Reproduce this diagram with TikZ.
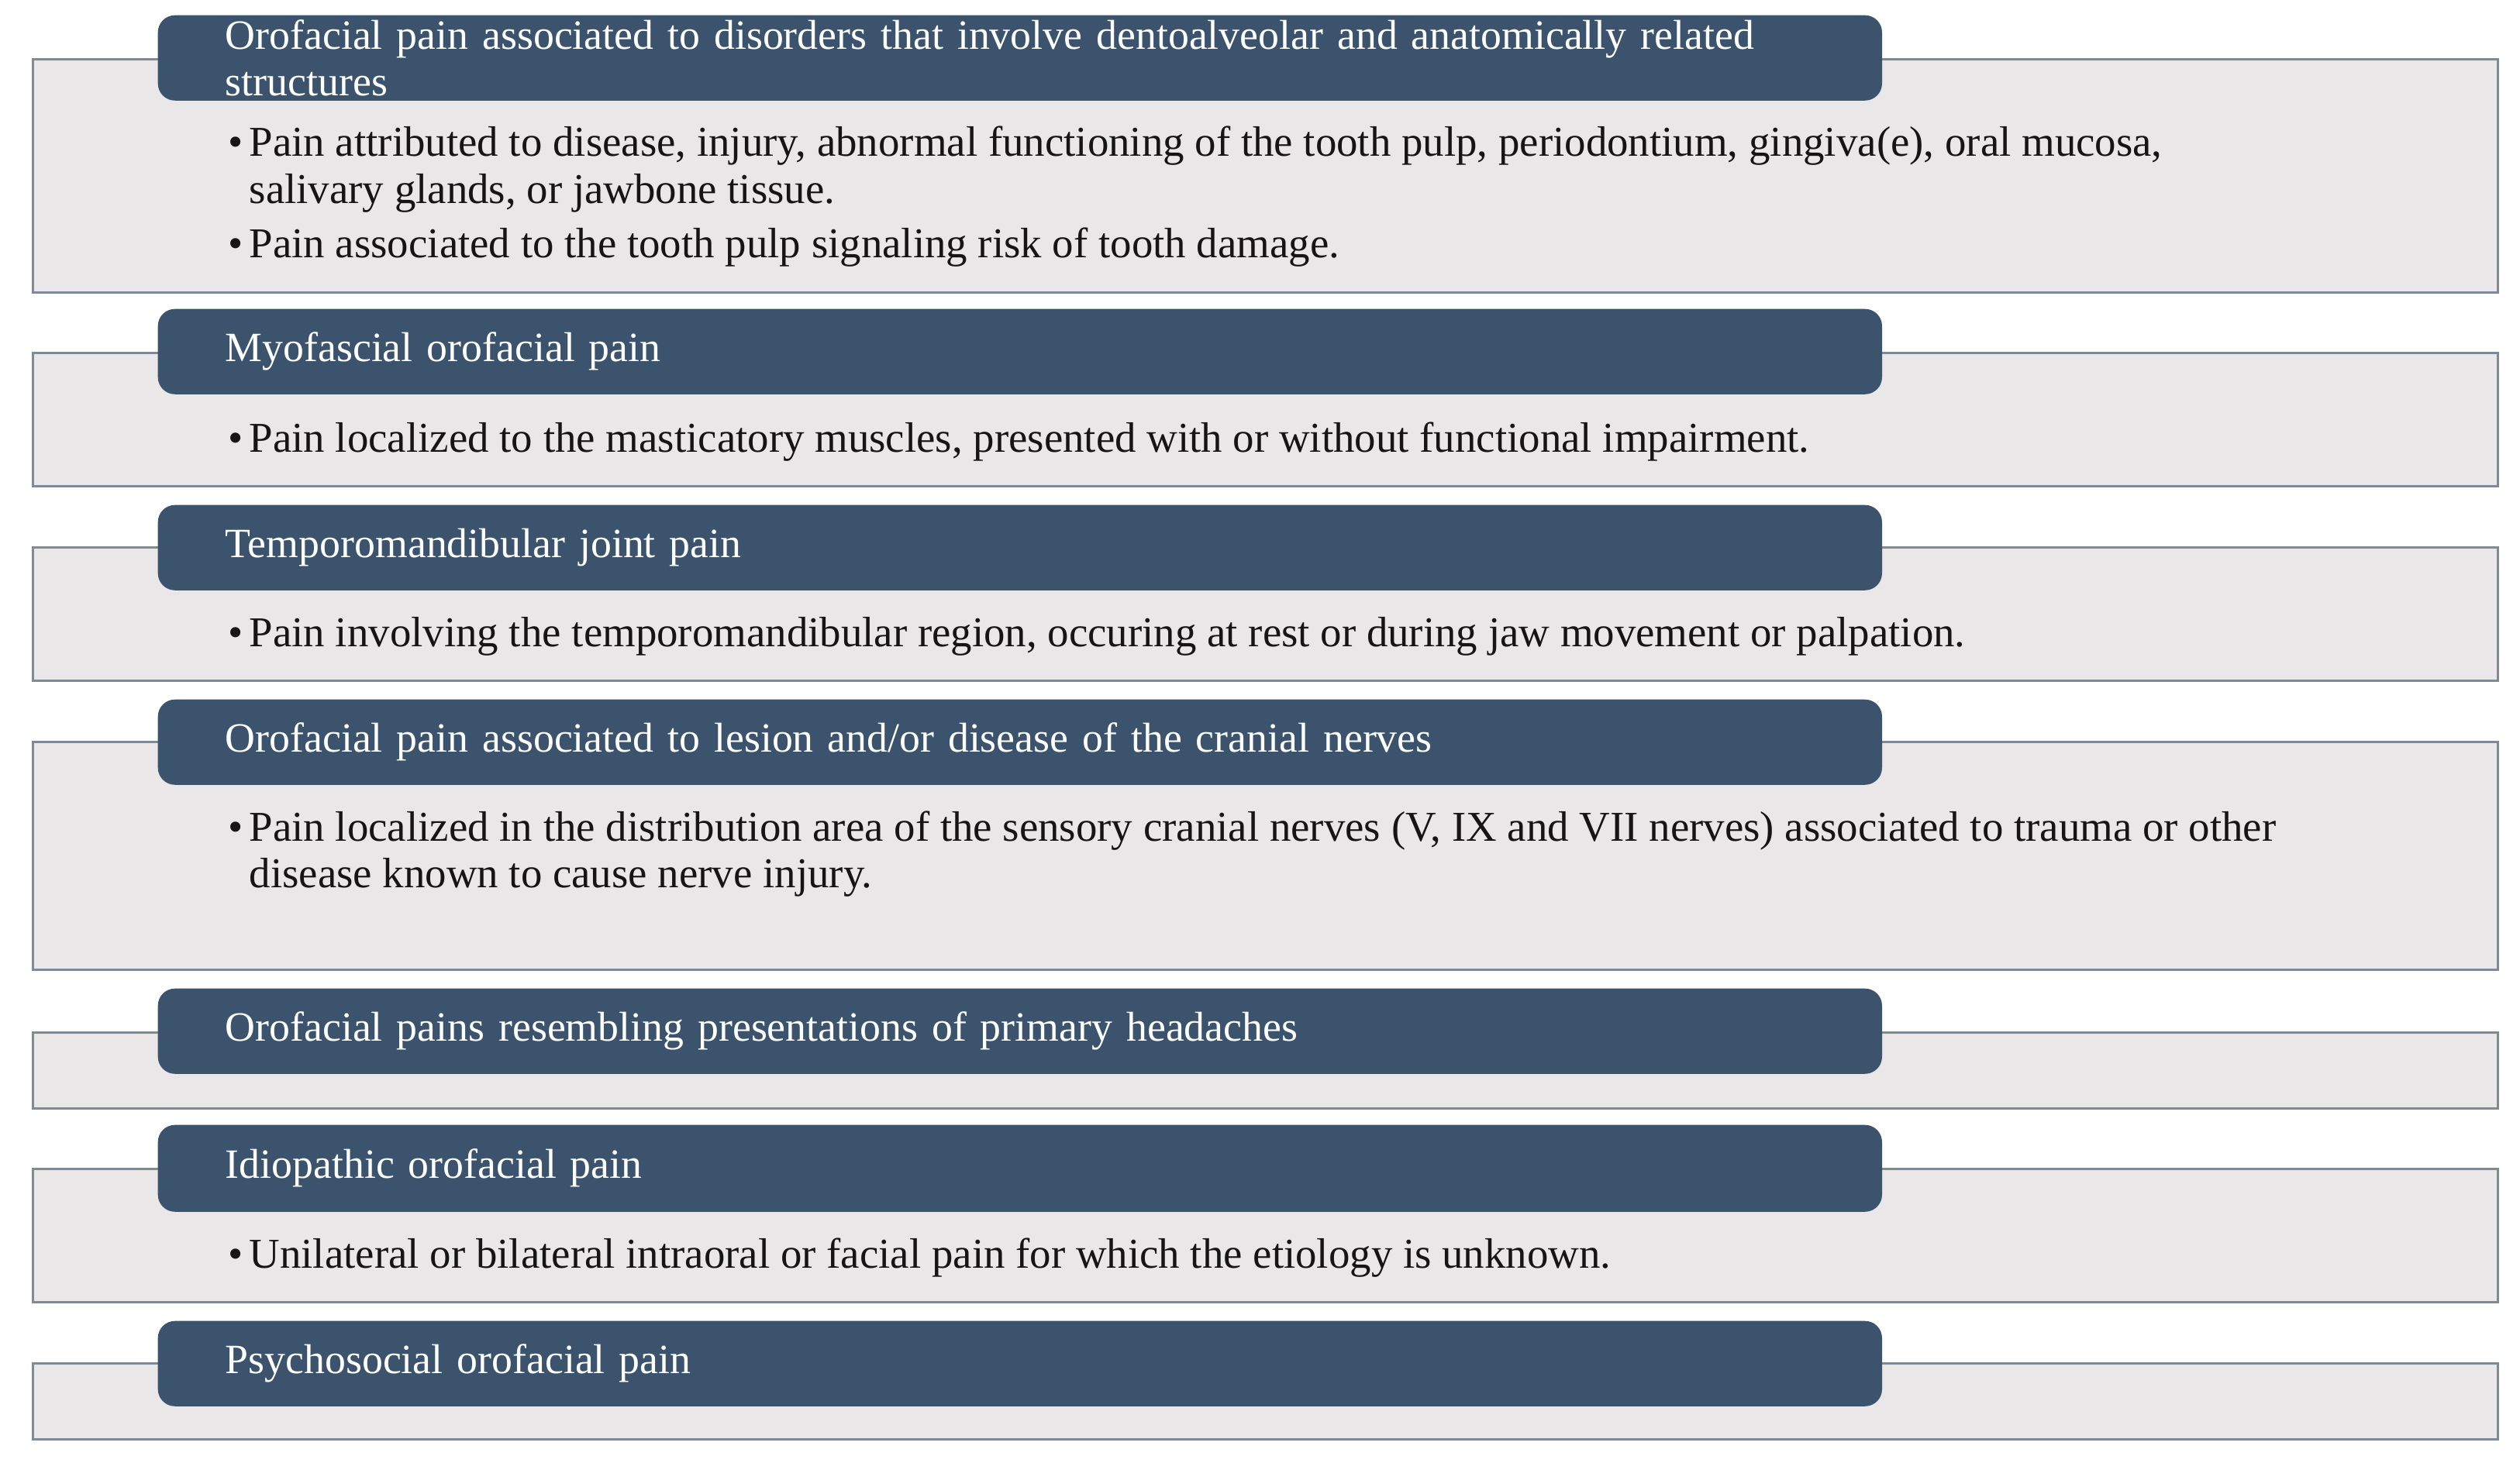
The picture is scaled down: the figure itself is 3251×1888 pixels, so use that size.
\documentclass[tikz,border=0pt]{standalone}
\usepackage{fontspec}
\setmainfont{Liberation Serif}
\definecolor{hdrfill}{HTML}{3B536D}
\definecolor{boxfill}{HTML}{EAE7E8}
\definecolor{boxline}{HTML}{7F8A99}
\definecolor{bodytext}{HTML}{151515}
\newcommand\bitem[1]{\begin{tabular}[t]{@{}p{0.27cm}@{}l@{}}\textbullet & #1\end{tabular}}
\begin{document}
\begin{tikzpicture}[x=0.01cm,y=-0.01cm,
  panel/.style={draw=boxline, fill=boxfill, line width=0.85pt, anchor=north west, minimum width=31.78cm, inner sep=0pt},
  hdr/.style={fill=hdrfill, rounded corners=0.22cm, anchor=north west, minimum width=22.23cm, text width=20.49cm, inner xsep=0.87cm, inner ysep=0pt, align=left, text=white, font=\fontsize{15.3}{17.1}\selectfont},
  btxt/.style={anchor=base west, inner sep=0pt, text=bodytext, font=\fontsize{15.6}{17.1}\selectfont}]
\useasboundingbox (0,0) rectangle (3251,1888);
\fill[white] (0,0) rectangle (3251,1888);

% row 1
\node[panel, minimum height=3.01cm] (b1) at (41,75) {};
\node[hdr, minimum height=1.10cm] (h1) at (203,19) {Orofacial pain associated to disorders that involve dentoalveolar and anatomically related\\structures};
\node[btxt] (t1a) at (294,202) {\bitem{Pain attributed to disease, injury, abnormal functioning of the tooth pulp, periodontium, gingiva(e), oral mucosa,\\ & salivary glands, or jawbone tissue.}};
\node[btxt] (t1b) at (294,332) {\bitem{Pain associated to the tooth pulp signaling risk of tooth damage.}};

% row 2
\node[panel, minimum height=1.72cm] (b2) at (41,454) {};
\node[hdr, minimum height=1.10cm] (h2) at (203,398) {Myofascial orofacial pain};
\node[btxt] (t2) at (294,583) {\bitem{Pain localized to the masticatory muscles, presented with or without functional impairment.}};

% row 3
\node[panel, minimum height=1.72cm] (b3) at (41,705) {};
\node[hdr, minimum height=1.10cm] (h3) at (203,651) {Temporomandibular joint pain};
\node[btxt] (t3) at (294,834) {\bitem{Pain involving the temporomandibular region, occuring at rest or during jaw movement or palpation.}};

% row 4
\node[panel, minimum height=2.94cm] (b4) at (41,956) {};
\node[hdr, minimum height=1.10cm] (h4) at (203,902) {Orofacial pain associated to lesion and/or disease of the cranial nerves};
\node[btxt] (t4) at (294,1085) {\bitem{Pain localized in the distribution area of the sensory cranial nerves (V, IX and VII nerves) associated to trauma or other\\ & disease known to cause nerve injury.}};

% row 5
\node[panel, minimum height=0.98cm] (b5) at (41,1331) {};
\node[hdr, minimum height=1.10cm] (h5) at (203,1275) {Orofacial pains resembling presentations of primary headaches};

% row 6
\node[panel, minimum height=1.72cm] (b6) at (41,1507) {};
\node[hdr, minimum height=1.12cm] (h6) at (203,1451) {Idiopathic orofacial pain};
\node[btxt] (t6) at (294,1636) {\bitem{Unilateral or bilateral intraoral or facial pain for which the etiology is unknown.}};

% row 7
\node[panel, minimum height=0.98cm] (b7) at (41,1758) {};
\node[hdr, minimum height=1.10cm] (h7) at (203,1704) {Psychosocial orofacial pain};
\end{tikzpicture}
\end{document}
